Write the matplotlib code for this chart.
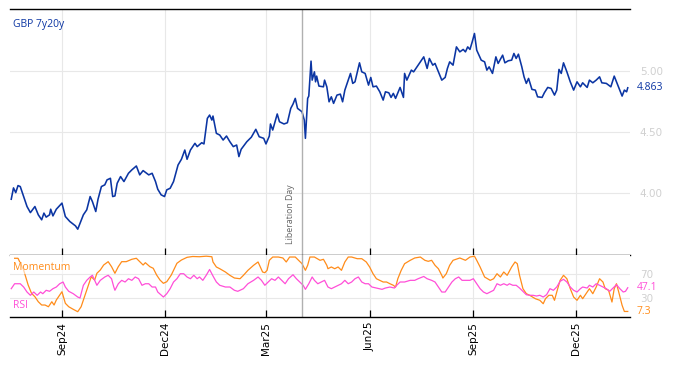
import numpy as np
import pandas as pd
import matplotlib
matplotlib.use("Agg")
import matplotlib.pyplot as plt
import matplotlib.dates as mdates
import matplotlib.transforms as mtransforms

# day offsets from 2024-07-15 and values
base = pd.Timestamp("2024-07-15")

px_days = [3, 5, 7, 9, 11, 14, 17, 20, 24, 27, 30, 32, 34, 37, 38, 40, 43, 48, 51, 55,
           60, 62, 67, 70, 73, 75, 78, 80, 83, 86, 88, 91, 93, 95, 97, 100, 103, 107, 110, 114,
           117, 120, 125, 128, 131, 133, 136, 139, 141, 144, 147, 151, 154, 157, 159, 162, 166, 168, 172, 174,
           177, 179, 181, 182, 185, 188, 191, 194, 197, 200, 203, 205, 207, 212, 216, 220, 223, 227, 229, 232,
           233, 235, 239, 241, 245, 248, 251, 253, 255, 257, 261, 263, 264, 266, 267, 269, 270, 272, 273, 274,
           276, 280, 281, 283, 285, 287, 289, 292, 295, 297, 299, 304, 306, 308, 312, 314, 317, 320, 322, 324,
           327, 330, 333, 335, 338, 340, 342, 344, 348, 351, 352, 354, 358, 360, 363, 366, 369, 372, 374, 377,
           379, 382, 385, 388, 390, 392, 395, 398, 401, 404, 406, 408, 410, 412, 414, 416, 420, 423, 425, 427,
           430, 433, 435, 439, 441, 444, 447, 449, 451, 453, 456, 458, 460, 462, 465, 468, 470, 474, 476, 479,
           482, 485, 487, 489, 491, 493, 496, 499, 502, 505, 508, 510, 514, 516, 519, 522, 525, 527, 531, 535,
           538, 540, 542, 545, 547, 549, 550]
px_vals = [3.948, 4.041, 4.002, 4.060, 4.052, 3.970, 3.888, 3.838, 3.888, 3.820, 3.779, 3.834, 3.801, 3.820, 3.866, 3.811, 3.866, 3.916, 3.806, 3.765,
           3.729, 3.702, 3.820, 3.861, 3.970, 3.929, 3.847, 3.948, 4.052, 4.066, 4.107, 4.120, 3.970, 3.975, 4.079, 4.134, 4.093, 4.161, 4.189, 4.221,
           4.148, 4.183, 4.148, 4.161, 4.093, 4.030, 3.984, 3.970, 4.025, 4.038, 4.093, 4.229, 4.276, 4.352, 4.276, 4.352, 4.407, 4.380, 4.412, 4.402,
           4.612, 4.639, 4.598, 4.631, 4.489, 4.475, 4.434, 4.467, 4.420, 4.380, 4.393, 4.298, 4.358, 4.420, 4.457, 4.522, 4.461, 4.448, 4.402, 4.467,
           4.566, 4.516, 4.648, 4.584, 4.566, 4.576, 4.694, 4.729, 4.776, 4.694, 4.666, 4.598, 4.448, 4.776, 4.795, 5.082, 4.926, 4.994, 4.912, 4.959,
           4.877, 4.871, 4.926, 4.871, 4.748, 4.789, 4.735, 4.803, 4.811, 4.748, 4.844, 4.981, 4.899, 4.912, 5.068, 4.994, 4.981, 4.885, 4.948, 4.871,
           4.877, 4.830, 4.762, 4.830, 4.822, 4.784, 4.817, 4.776, 4.866, 4.784, 4.981, 4.926, 5.008, 4.994, 5.035, 5.076, 5.117, 5.022, 5.104, 5.049,
           5.063, 4.994, 4.926, 4.948, 5.022, 5.076, 5.049, 5.199, 5.158, 5.178, 5.158, 5.199, 5.178, 5.240, 5.309, 5.172, 5.090, 5.076, 5.008, 5.035,
           4.981, 5.117, 5.063, 5.131, 5.068, 5.085, 5.090, 5.145, 5.104, 5.139, 5.035, 4.953, 4.899, 4.940, 4.850, 4.844, 4.789, 4.784, 4.822, 4.866,
           4.858, 4.803, 4.844, 5.014, 4.981, 5.068, 4.994, 4.912, 4.844, 4.912, 4.871, 4.904, 4.866, 4.926, 4.904, 4.926, 4.953, 4.904, 4.899, 4.871,
           4.959, 4.912, 4.866, 4.795, 4.844, 4.830, 4.863]

mom_days = [6, 9, 14, 18, 21, 24, 27, 30, 33, 36, 39, 41, 43, 46, 48, 51, 54, 58, 62, 65,
            68, 71, 74, 77, 79, 82, 85, 89, 92, 95, 98, 101, 105, 110, 114, 117, 120, 122, 126, 129,
            132, 135, 138, 141, 145, 150, 154, 159, 164, 170, 176, 181, 182, 185, 188, 193, 197, 201, 206, 209,
            213, 218, 222, 224, 226, 228, 230, 232, 235, 240, 244, 247, 250, 255, 258, 261, 264, 266, 268, 272,
            277, 280, 283, 284, 287, 290, 293, 296, 299, 302, 305, 310, 314, 318, 321, 324, 327, 330, 333, 336,
            339, 342, 344, 346, 349, 352, 357, 361, 366, 370, 373, 376, 379, 382, 385, 386, 389, 392, 395, 401,
            406, 410, 414, 416, 419, 423, 428, 431, 434, 437, 440, 443, 447, 450, 452, 454, 457, 460, 463, 468,
            472, 475, 477, 480, 483, 485, 487, 490, 493, 496, 499, 502, 505, 508, 510, 514, 516, 519, 522, 525,
            528, 530, 533, 536, 538, 540, 542, 545, 547, 550]
mom_vals = [96.5, 96.5, 76.8, 51.7, 37.7, 32.0, 23.6, 18.1, 18.1, 15.2, 23.6, 18.1, 26.5, 34.9, 40.4, 21.0, 15.2, 10.9, 6.9, 15.2,
            32.0, 48.8, 65.6, 60.0, 71.3, 76.8, 85.2, 90.8, 82.4, 71.3, 82.4, 90.8, 90.8, 94.8, 96.5, 90.8, 85.2, 89.1, 82.4, 79.7,
            68.4, 60.0, 54.5, 57.2, 68.4, 88.1, 93.6, 98.1, 99.5, 99.1, 100.0, 99.1, 90.3, 81.9, 79.0, 73.5, 67.9, 63.4, 62.2, 67.9,
            76.3, 84.7, 90.3, 81.9, 73.5, 72.3, 76.3, 93.1, 98.6, 98.6, 97.0, 90.3, 98.6, 98.6, 93.1, 87.4, 76.3, 84.7, 98.6, 98.6,
            93.1, 94.8, 84.7, 79.0, 81.9, 79.0, 81.9, 76.3, 90.3, 98.6, 98.6, 95.8, 95.8, 90.3, 81.9, 70.6, 62.2, 59.5, 56.7, 56.7,
            53.8, 51.2, 48.3, 62.2, 76.3, 87.4, 93.1, 97.0, 98.6, 93.1, 91.4, 93.1, 84.7, 79.0, 67.9, 63.4, 70.6, 84.7, 93.1, 97.0,
            93.1, 98.6, 100.0, 93.1, 81.9, 65.1, 59.5, 62.2, 70.6, 65.1, 73.5, 67.9, 81.9, 90.3, 87.4, 67.9, 45.5, 37.1, 34.4, 28.7,
            26.0, 20.3, 28.7, 34.4, 34.4, 26.0, 39.9, 59.5, 67.9, 62.2, 45.5, 31.5, 26.0, 34.4, 28.7, 39.9, 45.5, 37.1, 48.3, 62.2,
            56.7, 45.5, 42.8, 23.1, 45.5, 53.8, 39.9, 17.6, 7.3, 7.3]

rsi_days = [3, 6, 11, 14, 17, 20, 23, 26, 29, 31, 34, 37, 40, 43, 46, 49, 51, 54, 58, 62,
            64, 67, 70, 73, 75, 77, 79, 82, 86, 89, 92, 94, 95, 98, 101, 104, 107, 110, 113, 116,
            119, 122, 125, 128, 131, 133, 138, 141, 144, 147, 150, 153, 156, 159, 162, 165, 168, 170, 173, 176,
            179, 182, 185, 188, 193, 197, 201, 204, 209, 213, 218, 222, 225, 228, 231, 234, 237, 240, 243, 246,
            249, 253, 256, 259, 262, 264, 267, 270, 272, 275, 278, 281, 284, 287, 290, 293, 296, 299, 302, 305,
            308, 311, 314, 317, 320, 323, 327, 332, 335, 339, 343, 345, 348, 352, 357, 361, 364, 369, 372, 376,
            379, 382, 385, 388, 391, 394, 397, 400, 403, 406, 410, 413, 416, 419, 422, 425, 428, 431, 434, 437,
            440, 443, 445, 448, 451, 454, 457, 460, 463, 466, 469, 472, 475, 478, 481, 484, 487, 490, 493, 496,
            499, 502, 505, 508, 510, 514, 516, 519, 522, 525, 528, 531, 534, 537, 540, 543, 546, 548, 550]
rsi_vals = [45.5, 53.8, 53.8, 48.3, 39.9, 34.4, 39.9, 34.4, 39.9, 37.1, 42.8, 41.1, 45.5, 48.3, 53.8, 56.7, 48.3, 41.1, 37.1, 31.5,
            29.8, 51.2, 59.5, 65.1, 68.0, 59.5, 51.2, 59.5, 65.1, 68.0, 62.2, 48.3, 42.8, 53.8, 59.5, 56.7, 62.2, 59.5, 65.1, 62.2,
            51.2, 53.8, 53.8, 48.3, 48.3, 39.9, 31.5, 37.1, 45.5, 56.7, 62.2, 70.6, 70.6, 65.1, 62.2, 68.0, 62.2, 65.1, 59.5, 68.0,
            77.7, 66.8, 56.7, 51.2, 48.3, 48.3, 42.8, 41.1, 45.5, 53.8, 59.5, 65.1, 59.5, 51.2, 56.7, 62.2, 59.5, 65.1, 59.5, 53.8,
            62.2, 68.9, 62.2, 56.7, 51.2, 44.4, 53.8, 65.1, 59.5, 53.8, 56.7, 59.5, 48.3, 45.5, 48.3, 51.2, 53.8, 59.5, 53.8, 56.7,
            62.2, 65.1, 56.7, 53.8, 53.8, 48.3, 46.6, 44.4, 46.6, 48.3, 46.6, 51.2, 56.7, 56.7, 59.5, 59.5, 62.2, 66.0, 62.2, 59.5,
            56.7, 48.3, 39.9, 39.9, 48.3, 56.7, 62.2, 65.1, 59.5, 59.5, 59.5, 62.2, 53.8, 45.5, 39.9, 37.1, 39.9, 42.8, 53.8, 51.2,
            53.8, 51.2, 53.8, 51.2, 51.2, 46.6, 41.1, 35.4, 34.4, 34.4, 33.2, 34.4, 31.5, 35.4, 45.5, 42.8, 48.3, 57.9, 61.2, 56.7,
            48.3, 42.8, 39.9, 45.5, 48.3, 46.6, 51.2, 48.3, 53.8, 51.2, 48.3, 45.5, 41.1, 46.6, 52.2, 45.5, 39.9, 41.1, 47.1]

tick_months = ["2024-09-01", "2024-12-01", "2025-03-01", "2025-06-01", "2025-09-01", "2025-12-01"]
tick_labels = ["Sep24", "Dec24", "Mar25", "Jun25", "Sep25", "Dec25"]
event_date = pd.Timestamp("2025-04-02")
event_label = "Liberation Day"
series_name = "GBP 7y20y"

px_dates = base + pd.to_timedelta(px_days, unit="D")
mom_dates = base + pd.to_timedelta(mom_days, unit="D")
rsi_dates = base + pd.to_timedelta(rsi_days, unit="D")
ticks = pd.to_datetime(tick_months)

blue = "#0b35a3"
orange = "#ff8c1a"
pink = "#ff4fd8"
grid_c = "#e8e8e8"
lab_c = "#d0d0d0"

W, H = 674, 366
fig = plt.figure(figsize=(W / 100, H / 100), dpi=100)
ax = fig.add_axes([10 / W, 1 - 255 / H, 620 / W, 246 / H])
ax2 = fig.add_axes([10 / W, 1 - 317 / H, 620 / W, 62 / H], sharex=ax)

xlim = (base + pd.Timedelta(days=1.9), base + pd.Timedelta(days=552))

ax.plot(px_dates, px_vals, color=blue, lw=1.15)
ax.set_xlim(xlim)
ax.set_ylim(3.49, 5.51)
ax.set_yticks([4.0, 4.5, 5.0])
ax.set_yticklabels(["4.00", "4.50", "5.00"])

ax2.plot(mom_dates, mom_vals, color=orange, lw=0.9)
ax2.plot(rsi_dates, rsi_vals, color=pink, lw=0.9)
ax2.set_ylim(-2, 102)
ax2.set_yticks([30, 70])

for a in (ax, ax2):
    a.yaxis.tick_right()
    a.tick_params(axis="y", length=0, pad=7, labelsize=7.5, labelcolor=lab_c)
    a.grid(True, color=grid_c, lw=0.8)
    a.set_axisbelow(True)
    a.spines["left"].set_visible(False)
    a.spines["right"].set_visible(False)
    a.set_xticks(ticks)
    a.tick_params(axis="x", direction="in", length=5, width=0.9, color="black")
    a.axvline(event_date, color="#b0b0b0", lw=1)

ax2.spines["top"].set_visible(False)
ax.tick_params(axis="x", labelbottom=False)
ax2.set_xticklabels(tick_labels, rotation=90, fontsize=7.5)
for s in ("top", "bottom"):
    ax.spines[s].set_linewidth(1)
ax2.spines["bottom"].set_linewidth(1)

# annotations
fig.text(13 / W, 1 - 25 / H, series_name, color=blue, fontsize=7.5, va="center", family="Open Sans")
fig.text(13 / W, 1 - 268 / H, "Momentum", color=orange, fontsize=7.5, va="center", family="Open Sans",
         bbox=dict(facecolor="white", alpha=0.6, edgecolor="none", pad=0.5))
fig.text(13 / W, 1 - 306 / H, "RSI", color=pink, fontsize=7.5, va="center", family="Open Sans")
ax.text(event_date - pd.Timedelta(days=10), 3.58, event_label, rotation=90, fontsize=6.3,
        color="#666666", ha="center", va="bottom", family="Open Sans")

tr = mtransforms.blended_transform_factory(ax.transAxes, ax.transData)
ax.text(1 + 7 / 620, px_vals[-1], f"{px_vals[-1]:.3f}", transform=tr, color=blue,
        fontsize=7.5, va="center", family="Open Sans")
tr2 = mtransforms.blended_transform_factory(ax2.transAxes, ax2.transData)
ax2.text(1 + 7 / 620, rsi_vals[-1], f"{rsi_vals[-1]:.1f}", transform=tr2, color=pink,
         fontsize=7.5, va="center", family="Open Sans")
ax2.text(1 + 7 / 620, mom_vals[-1], f"{mom_vals[-1]:.1f}", transform=tr2, color=orange,
         fontsize=7.5, va="center", family="Open Sans")

fig.savefig("out.png", dpi=100)
